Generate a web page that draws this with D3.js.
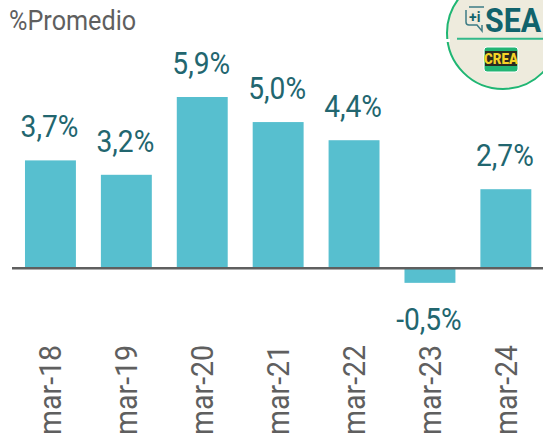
<!DOCTYPE html>
<html>
  <head>
    <meta charset="UTF-8" />
    <script src="https://cdn.jsdelivr.net/npm/d3@7"></script>
    <title>%Promedio</title>
    <style type="text/css">
      html, body { margin: 0; padding: 0; background: #fff; }
      svg { display: block; font-family: Roboto, sans-serif; }
    </style>
  </head>
  <body>
    <div id="chartcontainer"></div>
    <script>
      const categories = ["mar-18", "mar-19", "mar-20", "mar-21", "mar-22", "mar-23", "mar-24"];
      const values = [3.7, 3.2, 5.9, 5.03, 4.4, -0.55, 2.7];
      const valueLabels = ["3,7%", "3,2%", "5,9%", "5,0%", "4,4%", "-0,5%", "2,7%"];
      const yTitle = "%Promedio";

      const width = 543, height = 436;
      const svg = d3.select("#chartcontainer").append("svg")
        .attr("width", width).attr("height", height);

      // band of ~76px per category, bar 51px wide
      const x = d3.scaleBand().domain(categories).range([12.5, 543.8]).paddingInner(0.329).paddingOuter(0.1645);
      const y = d3.scaleLinear().domain([0, 5.9]).range([267, 97]);

      // title
      svg.append("text").attr("transform", "translate(9,30) scale(0.9,1)")
        .attr("font-size", 28).attr("fill", "#5f5f5f").text(yTitle);

      // bars
      svg.selectAll("rect.bar").data(values).join("rect").attr("class", "bar")
        .attr("x", (d, i) => x(categories[i]))
        .attr("width", x.bandwidth())
        .attr("y", d => Math.min(y(d), y(0)))
        .attr("height", d => Math.abs(y(d) - y(0)))
        .attr("fill", "#57bfcf");

      // zero line
      svg.append("line").attr("x1", 12).attr("x2", width)
        .attr("y1", y(0) + 1.2).attr("y2", y(0) + 1.2)
        .attr("stroke", "#5f5f5f").attr("stroke-width", 2.5);

      // value labels
      svg.selectAll("text.val").data(values).join("text").attr("class", "val")
        .attr("transform", (d, i) => {
          const cx = x(categories[i]) + x.bandwidth() / 2 - 1;
          const by = d < 0 ? y(d) + 47 : y(d) - 23;
          return "translate(" + cx + "," + by + ") scale(0.88,1)";
        })
        .attr("text-anchor", "middle").attr("font-size", 32).attr("fill", "#22666f")
        .text((d, i) => valueLabels[i]);

      // category labels, rotated
      svg.selectAll("text.cat").data(categories).join("text").attr("class", "cat")
        .attr("transform", d => "translate(" + (x(d) + x.bandwidth() / 2 + 11) + ",435) rotate(-90) scale(0.92,1)")
        .attr("font-size", 31).attr("fill", "#5f5f5f")
        .text(d => d);

      // logo
      const logo = svg.append("g");
      logo.append("circle").attr("cx", 503).attr("cy", 33).attr("r", 56)
        .attr("fill", "#eeebdd").attr("stroke", "#1fb673").attr("stroke-width", 2);
      logo.append("rect").attr("x", 444).attr("y", 39).attr("width", 6).attr("height", 3).attr("fill", "#fff");
      logo.append("line").attr("x1", 457).attr("x2", 543).attr("y1", 38.7).attr("y2", 38.7)
        .attr("stroke", "#33b98a").attr("stroke-width", 2);
      logo.append("text").attr("transform", "translate(485,32) scale(0.92,1)")
        .attr("font-size", 33).attr("font-weight", 700).attr("fill", "#11636c").text("SEA");
      // speech bubble icon
      logo.append("path").attr("d", "M469,7H484M466,10V22Q466,25 469,25H477L482,31V25")
        .attr("fill", "none").attr("stroke", "#3d7c85").attr("stroke-width", 1.5);
      logo.append("text").attr("x", 469).attr("y", 22).attr("font-size", 14).attr("font-weight", 700)
        .attr("fill", "#11636c").text("+i");
      logo.append("rect").attr("x", 484).attr("y", 47).attr("width", 34).attr("height", 25).attr("rx", 3)
        .attr("fill", "#22b573").attr("stroke", "#fff").attr("stroke-width", 1);
      logo.append("rect").attr("x", 485).attr("y", 51).attr("width", 32).attr("height", 15).attr("fill", "#2b2a1f");
      logo.append("text").attr("transform", "translate(501,64) scale(0.95,1)").attr("text-anchor", "middle")
        .attr("font-size", 14).attr("font-weight", 900).attr("fill", "#f5d327").text("CREA");
    </script>
  </body>
</html>
